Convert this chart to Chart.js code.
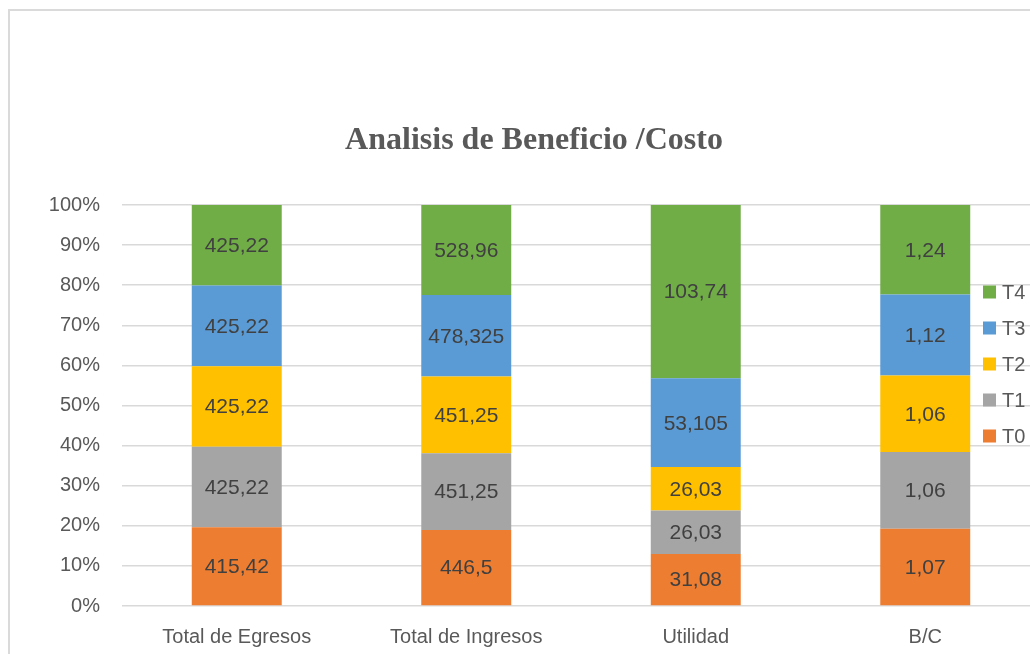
<!DOCTYPE html>
<html>
<head>
<meta charset="utf-8">
<script src="https://cdn.jsdelivr.net/npm/chart.js@4.4.1/dist/chart.umd.min.js"></script>
<style>
html, body { margin: 0; padding: 0; background: #fff; overflow: hidden; }
#frame { position: absolute; left: 8px; top: 9px; width: 1100px; height: 700px; border-top: 2px solid #dadada; border-left: 2px solid #dadada; }
#graph { position: absolute; left: 0; top: 0; }
</style>
</head>
<body>
<div id="frame"></div>
<canvas id="graph" width="1040" height="654"></canvas>
<script>
const categories = ["Total de Egresos", "Total de Ingresos", "Utilidad", "B/C"];
const seriesNames = ["T0", "T1", "T2", "T3", "T4"];
const colors = ["#ED7D31", "#A5A5A5", "#FFC000", "#5B9BD5", "#70AD47"];
const t0 = [415.42, 446.5, 31.08, 1.07];
const t1 = [425.22, 451.25, 26.03, 1.06];
const t2 = [425.22, 451.25, 26.03, 1.06];
const t3 = [425.22, 478.325, 53.105, 1.12];
const t4 = [425.22, 528.96, 103.74, 1.24];
const yTicks = [0, 10, 20, 30, 40, 50, 60, 70, 80, 90, 100];

const raw = [t0, t1, t2, t3, t4];
// 100% stacked: convert each column to share of its total
const totals = categories.map((c, i) => raw.reduce((s, arr) => s + arr[i], 0));

const datasets = raw.map((arr, k) => ({
  label: seriesNames[k],
  data: arr.map((v, i) => v / totals[i] * 100),
  raw: arr,
  backgroundColor: colors[k],
  borderWidth: 0,
  barPercentage: 0.392,
  categoryPercentage: 1,
}));

const font = "'Liberation Sans', Arial, sans-serif";

const valueLabels = {
  id: "valueLabels",
  afterDatasetsDraw(chart) {
    const ctx = chart.ctx;
    ctx.save();
    ctx.font = "21px " + font;
    ctx.fillStyle = "#404040";
    ctx.textAlign = "center";
    ctx.textBaseline = "middle";
    chart.data.datasets.forEach((ds, k) => {
      chart.getDatasetMeta(k).data.forEach((bar, i) => {
        const txt = String(ds.raw[i]).replace(".", ",");
        ctx.fillText(txt, bar.x, (bar.y + bar.base) / 2 + 1);
      });
    });
    ctx.restore();
  },
};

const sideLegend = {
  id: "sideLegend",
  afterDraw(chart) {
    const ctx = chart.ctx;
    ctx.save();
    ctx.font = "20px " + font;
    ctx.textBaseline = "middle";
    const n = chart.data.datasets.length;
    chart.data.datasets.forEach((ds, k) => {
      const y = 292 + (n - 1 - k) * 36;
      ctx.fillStyle = ds.backgroundColor;
      ctx.fillRect(983, y - 6.5, 13, 13);
      ctx.fillStyle = "#595959";
      ctx.fillText(ds.label, 1002, y + 1);
    });
    ctx.restore();
  },
};

new Chart(document.getElementById("graph"), {
  type: "bar",
  data: { labels: categories, datasets: datasets },
  plugins: [valueLabels, sideLegend],
  options: {
    responsive: false,
    animation: false,
    devicePixelRatio: 1,
    layout: { padding: { left: 28, right: 0, top: 0, bottom: 0 } },
    plugins: {
      legend: { display: false },
      tooltip: { enabled: false },
      title: {
        display: true,
        text: "Analisis de Beneficio /Costo",
        color: "#595959",
        font: { family: "'Liberation Serif', 'Times New Roman', serif", size: 32, weight: "bold", lineHeight: 1.2 },
        padding: { top: 122, bottom: 44.6 },
      },
    },
    scales: {
      x: {
        stacked: true,
        grid: { display: false },
        border: { display: false },
        ticks: { color: "#595959", padding: 11, font: { family: font, size: 20 } },
        afterFit(scale) { scale.height = 48; },
      },
      y: {
        stacked: true,
        min: 0,
        max: 100,
        afterBuildTicks(scale) { scale.ticks = yTicks.map(v => ({ value: v })); },
        grid: { color: "#d9d9d9", lineWidth: 1.5, drawTicks: false },
        border: { display: false },
        ticks: {
          color: "#595959",
          padding: 22,
          font: { family: font, size: 20 },
          callback: v => v + "%",
        },
        afterFit(scale) { scale.width = 94; },
      },
    },
  },
});
</script>
</body>
</html>
